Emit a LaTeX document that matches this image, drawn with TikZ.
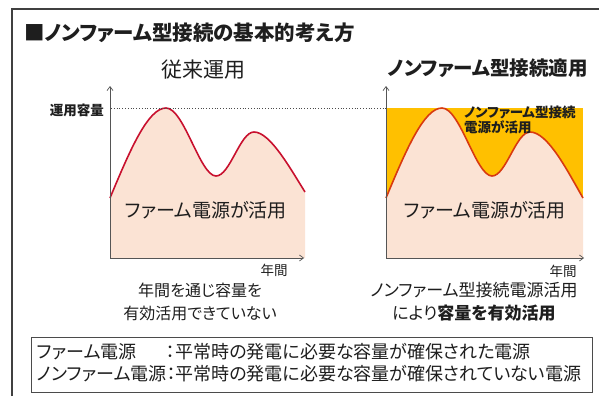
\documentclass[tikz,border=0pt]{standalone}
\usepackage{fontspec}
\setmainfont{Noto Sans CJK JP}[RawFeature=+palt]
\usetikzlibrary{arrows.meta}
\definecolor{peach}{HTML}{FBE3D4}
\definecolor{gold}{HTML}{FFC000}
\definecolor{curveA}{HTML}{C8102E}
\definecolor{curveB}{HTML}{D83A10}
\definecolor{ink}{HTML}{1E1E1E}
\definecolor{axisgray}{HTML}{555555}
\tikzset{
  axisline/.style={draw=axisgray, line width=0.7pt, -{Straight Barb[length=4pt,width=6pt]}},
  capline/.style={draw=ink!80, dotted, line width=0.8pt},
  curveline/.style={line width=1.6pt},
  txt/.style={text=ink, inner sep=0pt, font=#1},
  frameline/.style={draw=ink!85, line width=1.1pt},
}
\begin{document}
\begin{tikzpicture}[x=1pt,y=-1pt]
\useasboundingbox (0,0) rectangle (599,396);
% outer frame
\draw[frameline] (12,396) -- (12,9) -- (599,9);
% title
\node[txt={\fontsize{20.5}{24}\selectfont\bfseries}, anchor=west] (title) at (24,33) {■ノンファーム型接続の基本的考え方};
\node[txt={\fontsize{21}{24}\selectfont}] (ttlA) at (203,70) {従来運用};
\node[txt={\fontsize{19.5}{22}\selectfont\bfseries}] (ttlB) at (488,68) {ノンファーム型接続適用};

% ---- left chart
\coordinate (oA) at (110,258);
\coordinate (yA) at (110,86);
\coordinate (xA) at (304,258);
\fill[peach] (110,198) .. controls (130,150) and (148,108) .. (166,108)
  .. controls (184,108) and (200,176) .. (216,176)
  .. controls (230,176) and (240,132) .. (254,132)
  .. controls (270,132) and (290,168) .. (305,192) -- (305,258) -- (110,258) -- cycle;
\draw[curveline, draw=curveA] (110,198) .. controls (130,150) and (148,108) .. (166,108)
  .. controls (184,108) and (200,176) .. (216,176)
  .. controls (230,176) and (240,132) .. (254,132)
  .. controls (270,132) and (290,168) .. (305,192);
\draw[axisline] (oA) -- (yA);
\draw[axisline] (oA) -- (xA);

% ---- right chart
\coordinate (oB) at (386,258);
\coordinate (yB) at (386,86);
\coordinate (xB) at (584,258);
\fill[gold] (386,108) rectangle (583,258);
\fill[peach] (386,198) .. controls (406,150) and (424,108) .. (442,108)
  .. controls (460,108) and (476,176) .. (492,176)
  .. controls (506,176) and (516,132) .. (530,132)
  .. controls (548,132) and (568,172) .. (583,198) -- (583,258) -- (386,258) -- cycle;
\draw[curveline, draw=curveB] (386,198) .. controls (406,150) and (424,108) .. (442,108)
  .. controls (460,108) and (476,176) .. (492,176)
  .. controls (506,176) and (516,132) .. (530,132)
  .. controls (548,132) and (568,172) .. (583,198);
\draw[axisline] (oB) -- (yB);
\draw[axisline] (oB) -- (xB);

% capacity line
\coordinate (capA) at (111,108);
\coordinate (capB) at (386,108);
\draw[capline] (capA) -- (capB);
\node[txt={\fontsize{13.5}{16}\selectfont\bfseries}, anchor=east] (cap) at (104,110) {運用容量};

% labels in charts
\node[txt={\fontsize{19}{22}\selectfont}] (firmA) at (206,210) {ファーム電源が活用};
\node[txt={\fontsize{19}{22}\selectfont}] (firmB) at (485,210) {ファーム電源が活用};
\node[txt={\fontsize{13.5}{15}\selectfont\bfseries}, anchor=west, align=left] (nonfirm) at (464,120) {ノンファーム型接続\\電源が活用};
\node[txt={\fontsize{13.5}{16}\selectfont}] (yrA) at (274,270) {年間};
\node[txt={\fontsize{13.5}{16}\selectfont}] (yrB) at (563,271) {年間};

% captions
\node[txt={\fontsize{16}{23}\selectfont}, align=center] (capL) at (200,302) {年間を通じ容量を\\有効活用できていない};
\node[txt={\fontsize{17}{23}\selectfont}, align=center] (capR) at (474,302) {ノンファーム型接続電源活用\\により\textbf{容量を有効活用}};

% legend
\node[draw=ink!80, line width=0.8pt, minimum width=561pt, minimum height=55pt, inner sep=0pt] (legbox) at (311.5,364.5) {};
\node[txt={\fontsize{18}{22}\selectfont}, anchor=west] (legtext) at (37,365)
  {\begin{tabular}{@{}l@{}l@{}}ファーム電源 & ：平常時の発電に必要な容量が確保された電源\\ノンファーム電源 & ：平常時の発電に必要な容量が確保されていない電源\end{tabular}};
\end{tikzpicture}
\end{document}
